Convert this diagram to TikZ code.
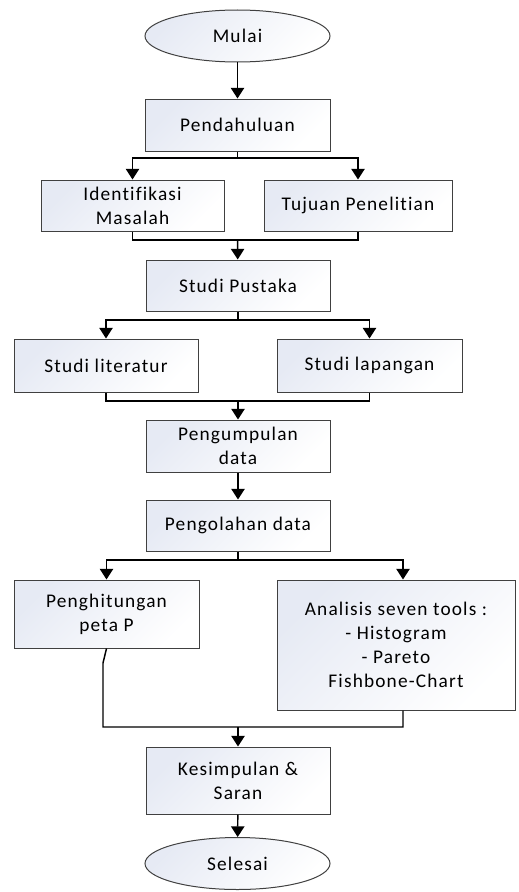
\documentclass[tikz,border=0pt]{standalone}
\usepackage{fontspec}
\setmainfont{Carlito}[LetterSpace=6,Ligatures=NoCommon]
\usetikzlibrary{shapes.geometric,arrows.meta}

\definecolor{isi}{HTML}{E6EAF4}
\tikzset{every path/.style={line width=1.1pt}}

\begin{document}
\begin{tikzpicture}[x=0.75pt,y=-0.75pt,
    proses/.style={rectangle,draw=black!75,line width=0.75pt,top color=isi,bottom color=white,
      shading angle=45,align=center,inner sep=0pt,font=\fontsize{14.5}{18}\selectfont},
    terminal/.style={ellipse,draw=black!75,line width=0.75pt,top color=isi,bottom color=white,
      shading angle=45,minimum width=138.75pt,minimum height=39pt,inner sep=0pt,
      font=\fontsize{14.5}{18}\selectfont},
    panah/.style={-{Triangle[width=10pt,length=8pt]}}]
    \useasboundingbox (0,0) rectangle (518,892);
    \node[terminal] (mulai) at (237.5,36) {Mulai};
    \node[proses,minimum width=138.75pt,minimum height=39pt] (pendahuluan) at (237.5,125) {Pendahuluan};
    \node[proses,minimum width=137.25pt,minimum height=38.25pt] (identifikasi) at (132.5,205.5) {Identifikasi\\Masalah};
    \node[proses,minimum width=141pt,minimum height=38.25pt] (tujuan) at (358,205.5) {Tujuan Penelitian};
    \node[proses,minimum width=138pt,minimum height=38.25pt] (pustaka) at (238,285.5) {Studi Pustaka};
    \node[proses,minimum width=138pt,minimum height=39.75pt] (literatur) at (106,365.5) {Studi literatur};
    \node[proses,minimum width=138.75pt,minimum height=39.75pt] (lapangan) at (369.5,365.5) {Studi lapangan};
    \node[proses,minimum width=138pt,minimum height=39pt] (pengumpulan) at (238,446) {Pengumpulan\\data};
    \node[proses,minimum width=138pt,minimum height=38.25pt] (pengolahan) at (238,525.5) {Pengolahan data};
    \node[proses,minimum width=138.75pt,minimum height=51pt] (petap) at (106.5,614) {Penghitungan\\peta P};
    \node[proses,minimum width=178.5pt,minimum height=97.5pt] (analisis) at (396,645)
      {Analisis seven tools :\\- Histogram\\- Pareto\\Fishbone-Chart};
    \node[proses,minimum width=138pt,minimum height=50.25pt] (kesimpulan) at (238,780.5) {Kesimpulan \&\\Saran};
    \node[terminal] (selesai) at (237.5,863.5) {Selesai};

    \coordinate (cabang1) at (237.5,158);
    \coordinate (gabung1) at (237.5,240);
    \coordinate (cabang2) at (238,320);
    \coordinate (gabung2) at (238,401);
    \coordinate (cabang3) at (238,560);
    \coordinate (belok) at (103,663);
    \coordinate (gabung3) at (238,727);

    \draw[panah] (mulai) -- (pendahuluan);
    \draw (pendahuluan) -- (cabang1);
    \draw[panah] (cabang1) -| (identifikasi);
    \draw[panah] (cabang1) -| (tujuan);
    \draw (identifikasi) |- (gabung1) -| (tujuan);
    \draw[panah] (gabung1) -- (pustaka);
    \draw (pustaka) -- (cabang2);
    \draw[panah] (cabang2) -| (literatur);
    \draw[panah] (cabang2) -| (lapangan);
    \draw (literatur) |- (gabung2) -| (lapangan);
    \draw[panah] (gabung2) -- (pengumpulan);
    \draw[panah] (pengumpulan) -- (pengolahan);
    \draw (pengolahan) -- (cabang3);
    \draw[panah] (cabang3) -| (petap);
    \draw[panah] (cabang3) -| ([xshift=5.25pt]analisis.north);
    \draw (petap.south) -- (belok) |- (gabung3) -| ([xshift=5.25pt]analisis.south);
    \draw[panah] (gabung3) -- (kesimpulan);
    \draw[panah] (kesimpulan) -- (selesai);
  \end{tikzpicture}
\end{document}
